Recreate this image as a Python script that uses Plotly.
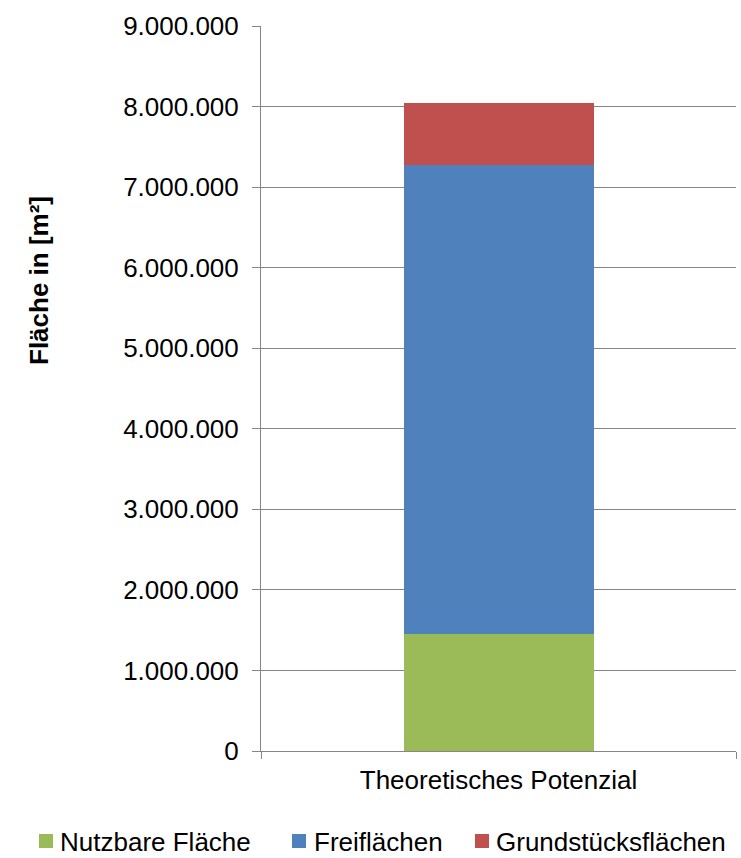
import plotly.graph_objects as go

# Stacked area potential, in square metres
categories = ["Theoretisches Potenzial"]
series_names = ["Nutzbare Fläche", "Freiflächen", "Grundstücksflächen"]
nutzbare_flaeche = [1457000]
freiflaechen = [5814000]
grundstuecksflaechen = [779000]
series_values = [nutzbare_flaeche, freiflaechen, grundstuecksflaechen]
series_colors = ["#9BBB59", "#4F81BD", "#C0504D"]

FONT = "Arial, 'Liberation Sans', sans-serif"
W, H = 741, 858
ML, MR, MT, MB = 261, 5, 26, 107
PW, PH = W - ML - MR, H - MT - MB


def px_x(px):
    return (px - ML) / PW


def px_y(py):
    return (H - MB - py) / PH


fig = go.Figure()
for name, vals, col in zip(series_names, series_values, series_colors):
    fig.add_trace(go.Bar(
        x=categories, y=vals, name=name,
        marker=dict(color=col, line=dict(width=0)),
        width=0.4, showlegend=False,
    ))

# Legend row below the plot: coloured square + label per series
legend_sq_left = [39, 292, 475]
legend_txt_left = [58, 312, 494]
legend_sq_cy = 841
legend_txt_cy = 842
shapes = []
annotations = []
for name, col, sx, tx in zip(series_names, series_colors, legend_sq_left, legend_txt_left):
    shapes.append(dict(
        type="rect", xref="paper", yref="paper",
        x0=px_x(sx), x1=px_x(sx + 14),
        y0=px_y(legend_sq_cy + 7), y1=px_y(legend_sq_cy - 7),
        fillcolor=col, line=dict(width=0),
    ))
    annotations.append(dict(
        text=name, xref="paper", yref="paper",
        x=px_x(tx), y=px_y(legend_txt_cy),
        xanchor="left", yanchor="middle", showarrow=False,
        font=dict(size=26, color="black"),
    ))

annotations.append(dict(
    text="<b>Fläche in [m²]</b>",
    xref="paper", yref="paper",
    x=px_x(39), y=px_y(281),
    xanchor="center", yanchor="middle",
    textangle=-90, showarrow=False,
    font=dict(size=26, color="black"),
))

fig.update_layout(
    barmode="stack",
    width=W, height=H,
    margin=dict(l=ML, r=MR, t=MT, b=MB, autoexpand=False),
    paper_bgcolor="white", plot_bgcolor="white",
    separators=",.",
    font=dict(family=FONT, size=26, color="black"),
    showlegend=False,
    xaxis=dict(
        type="category",
        range=[-0.5, 0.5],
        showline=True, linecolor="#868686", linewidth=1,
        ticks="outside", ticklen=7, tickcolor="#868686",
        tickson="boundaries",
        showgrid=False,
        ticklabelstandoff=6,
        tickfont=dict(size=26),
        automargin=False,
    ),
    yaxis=dict(
        range=[0, 9000000], dtick=1000000,
        tickformat=",.0f",
        showline=True, linecolor="#868686", linewidth=1,
        ticks="outside", ticklen=8, tickcolor="#868686",
        showgrid=True, gridcolor="#868686", gridwidth=1,
        zeroline=False,
        ticklabelstandoff=8,
        tickfont=dict(size=26),
        automargin=False,
    ),
    shapes=shapes,
    annotations=annotations,
)

fig.write_html("out.html")
